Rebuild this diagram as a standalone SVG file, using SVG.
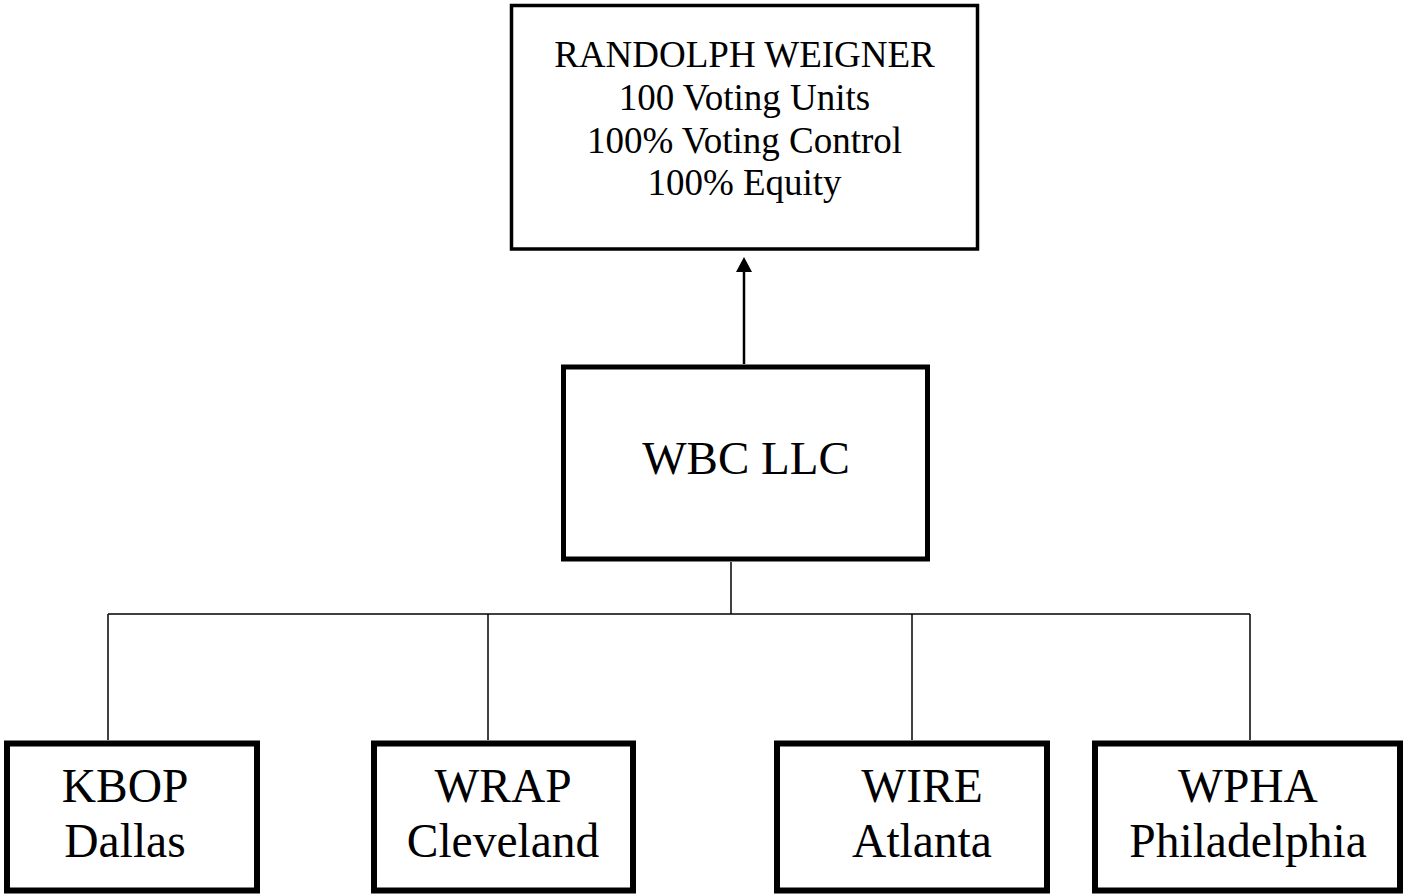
<svg xmlns="http://www.w3.org/2000/svg" width="1403" height="896" viewBox="0 0 1403 896">
<style>
.box{fill:#fff;stroke:#000}
.t{font-family:"Liberation Serif","Times New Roman",serif;fill:#000;text-anchor:middle}
.conn{fill:none;stroke:#000;stroke-width:1.5}
</style>
<defs>
<marker id="arr" markerWidth="16" markerHeight="16" viewBox="0 0 16 16" refX="8" refY="0" orient="auto-start-reverse" markerUnits="userSpaceOnUse">
<path d="M0,0 L16,0 L8,15 Z" fill="#000"/>
</marker>
</defs>
<rect width="1403" height="896" fill="#fff"/>
<g id="connectors">
<line x1="744" y1="364" x2="744" y2="272" stroke="#000" stroke-width="2.5"/>
<path d="M736,272 L752,272 L744,257 Z" fill="#000"/>
<line class="conn" x1="731" y1="562" x2="731" y2="614"/>
<line class="conn" x1="108" y1="614" x2="1250" y2="614"/>
<line class="conn" x1="108" y1="614" x2="108" y2="740"/>
<line class="conn" x1="488" y1="614" x2="488" y2="740"/>
<line class="conn" x1="912" y1="614" x2="912" y2="740"/>
<line class="conn" x1="1250" y1="614" x2="1250" y2="740"/>
</g>
<g id="randolph">
<rect class="box" x="511.5" y="5.5" width="466" height="243.5" stroke-width="3.5"/>
<text class="t" font-size="37" x="744.5" y="67">RANDOLPH WEIGNER</text>
<text class="t" font-size="37" x="744.5" y="110">100 Voting Units</text>
<text class="t" font-size="37" x="744.5" y="153">100% Voting Control</text>
<text class="t" font-size="37" x="744.5" y="195">100% Equity</text>
</g>
<g id="wbc">
<rect class="box" x="563.5" y="367" width="364" height="192" stroke-width="5"/>
<text class="t" font-size="47" x="746" y="474">WBC LLC</text>
</g>
<g id="kbop">
<rect class="box" x="7" y="743.5" width="250" height="147" stroke-width="6"/>
<text class="t" font-size="47.5" x="125" y="802">KBOP</text>
<text class="t" font-size="47.5" x="125" y="857">Dallas</text>
</g>
<g id="wrap">
<rect class="box" x="374" y="743.5" width="259" height="147" stroke-width="6"/>
<text class="t" font-size="47.5" x="503" y="802">WRAP</text>
<text class="t" font-size="47.5" x="503" y="857">Cleveland</text>
</g>
<g id="wire">
<rect class="box" x="777" y="743.5" width="270" height="147" stroke-width="6"/>
<text class="t" font-size="47.5" x="922" y="802">WIRE</text>
<text class="t" font-size="47.5" x="922" y="857">Atlanta</text>
</g>
<g id="wpha">
<rect class="box" x="1095" y="743.5" width="305" height="147" stroke-width="6"/>
<text class="t" font-size="47.5" x="1248" y="802">WPHA</text>
<text class="t" font-size="47.5" x="1248" y="857">Philadelphia</text>
</g>
</svg>
